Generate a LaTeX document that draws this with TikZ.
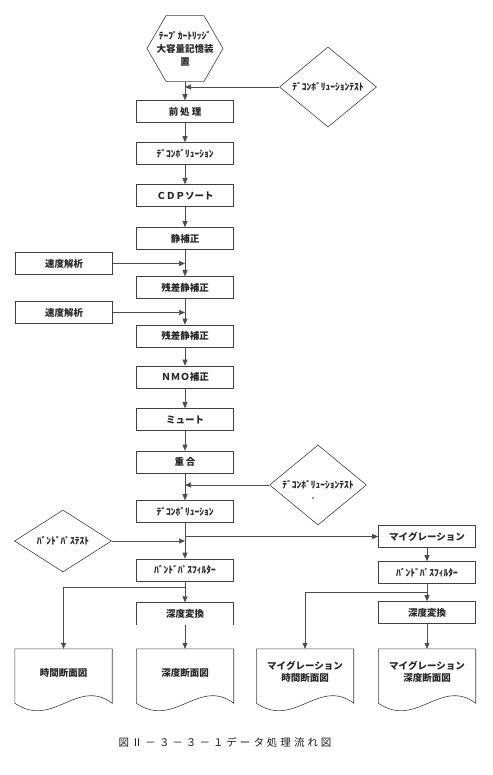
\documentclass[tikz,border=0pt]{standalone}
\usepackage{fontspec}
\setmainfont{Noto Sans CJK JP}
\usetikzlibrary{shapes.geometric,arrows.meta}
\begin{document}
\begin{tikzpicture}[x=1pt,y=-1pt,
  lbl/.style={font=\fontsize{9.5}{12}\selectfont\bfseries, text=black!85, align=center, inner sep=0pt},
  box/.style={lbl, draw=black!75, line width=0.6pt, minimum width=97pt, minimum height=22pt},
  plain/.style={lbl, minimum width=97pt, minimum height=22pt},
  dia/.style={lbl, draw=black!75, line width=0.6pt, diamond, minimum width=97pt, minimum height=60pt},
  docbox/.style={minimum width=97pt, minimum height=54pt, inner sep=0pt},
  outline/.style={draw=black!75, line width=0.6pt},
  conn/.style={draw=black!70, line width=0.6pt},
  arr/.style={conn, -{Triangle[length=6pt,width=5pt]}}]
\useasboundingbox (0,0) rectangle (492,775);

% hexagon
\node[regular polygon, regular polygon sides=6, minimum size=76pt, draw=black!75, line width=0.6pt, inner sep=0pt] (hex) at (185,48.5) {};
\node[lbl, font=\fontsize{9.5}{13}\selectfont\bfseries] (hext) at (hex.center) {ﾃｰﾌﾟｶｰﾄﾘｯｼﾞ\\大容量記憶装\\置};

% main column
\node[box] (pre)   at (185,111.5) {前\kern2pt 処\kern2pt 理};
\node[box] (dec1)  at (185,153.5) {ﾃﾞｺﾝﾎﾞﾘｭｰｼｮﾝ};
\node[box] (cdp)   at (185,195.5) {ＣＤＰソート};
\node[box] (stat)  at (185,238.5) {静補正};
\node[box] (res1)  at (185,287.5) {残差静補正};
\node[box] (res2)  at (185,336)   {残差静補正};
\node[box] (nmo)   at (185,377)   {ＮＭＯ補正};
\node[box] (mute)  at (185,419.5) {ミュート};
\node[box] (stack) at (185,462)   {重\kern2pt 合};
\node[box] (dec2)  at (185,511.5) {ﾃﾞｺﾝﾎﾞﾘｭｰｼｮﾝ};
\node[box] (bpL)   at (185,570)   {ﾊﾞﾝﾄﾞﾊﾟｽﾌｨﾙﾀｰ};
\node[plain] (depthL) at (185,613.5) {深度変換};
\draw[outline] (depthL.south west) -- (depthL.north west) -- (depthL.north east) -- (depthL.south east);

% side inputs
\node[box] (vel1) at (64,263.5) {速度解析};
\node[box] (vel2) at (64,312.5) {速度解析};
\node[dia] (d1) at (328,87)  {ﾃﾞｺﾝﾎﾞﾘｭｰｼｮﾝﾃｽﾄ};
\node[dia] (d2) at (318,485) {ﾃﾞｺﾝﾎﾞﾘｭｰｼｮﾝﾃｽﾄ};
\fill[black!80] (313,498) circle (0.9pt);
\node[dia, minimum height=62pt] (d3) at (63,541) {ﾊﾞﾝﾄﾞﾊﾟｽﾃｽﾄ};

% right column
\node[box] (mig)    at (427,536.5) {マイグレーション};
\node[box] (bpR)    at (427,572.5) {ﾊﾞﾝﾄﾞﾊﾟｽﾌｨﾙﾀｰ};
\node[box] (depthR) at (427,612.5) {深度変換};

% documents
\foreach \n/\x in {doc1/63.5, doc2/185, doc3/305, doc4/427} {
  \node[docbox] (\n) at (\x,676) {};
  \draw[outline] (\n.south west) -- (\n.north west) -- (\n.north east) -- (\n.south east)
    .. controls +(-35,-26) and +(38,26) .. (\n.south west);
}
\node[lbl] (doc1t) at ([yshift=3pt]doc1.center) {時間断面図};
\node[lbl] (doc2t) at ([yshift=3pt]doc2.center) {深度断面図};
\node[lbl, font=\fontsize{9.5}{12.5}\selectfont\bfseries] (doc3t) at ([yshift=4pt]doc3.center) {マイグレーション\\時間断面図};
\node[lbl, font=\fontsize{9.5}{12.5}\selectfont\bfseries] (doc4t) at ([yshift=4pt]doc4.center) {マイグレーション\\深度断面図};

% connectors main column
\draw[arr] (hex.south) -- (pre.north);
\draw[arr] (d1.west) -- (d1 -| pre);
\draw[arr] (pre.south) -- (dec1.north);
\draw[arr] (dec1.south) -- (cdp.north);
\draw[arr] (cdp.south) -- (stat.north);
\draw[arr] (stat.south) -- (res1.north);
\draw[arr] (vel1.east) -- (vel1 -| stat);
\draw[arr] (res1.south) -- (res2.north);
\draw[arr] (vel2.east) -- (vel2 -| res1);
\draw[arr] (res2.south) -- (nmo.north);
\draw[arr] (nmo.south) -- (mute.north);
\draw[arr] (mute.south) -- (stack.north);
\draw[arr] (stack.south) -- (dec2.north);
\draw[arr] (d2.west) -- (d2 -| stack);
\draw[arr] (dec2.south) -- (bpL.north);
\draw[arr] (d3.east) -- (d3 -| dec2);
\draw[arr] (dec2 |- mig) -- (mig.west);
\draw[arr] (bpL.south) -- (depthL.north);
\coordinate (brL) at (185,587);
\draw[arr] (brL) -| (doc1.north);
\draw[arr] (depthL.south) -- (doc2.north);

% right column connectors
\draw[arr] (mig.south) -- (bpR.north);
\draw[arr] (bpR.south) -- (depthR.north);
\coordinate (brR) at (427,592);
\draw[arr] (brR) -| (doc3.north);
\draw[arr] (depthR.south) -- (doc4.north);

% caption
\node[font=\fontsize{10.5}{12}\selectfont, text=black!90, inner sep=0pt] (cap) at (225,742)
  {図\kern3pt Ⅱ\kern3pt －\kern3pt ３\kern3pt －\kern3pt ３\kern3pt －\kern3pt １\kern3pt デ\kern3pt ー\kern3pt タ\kern3pt 処\kern3pt 理\kern3pt 流\kern3pt れ\kern3pt 図};
\end{tikzpicture}
\end{document}
